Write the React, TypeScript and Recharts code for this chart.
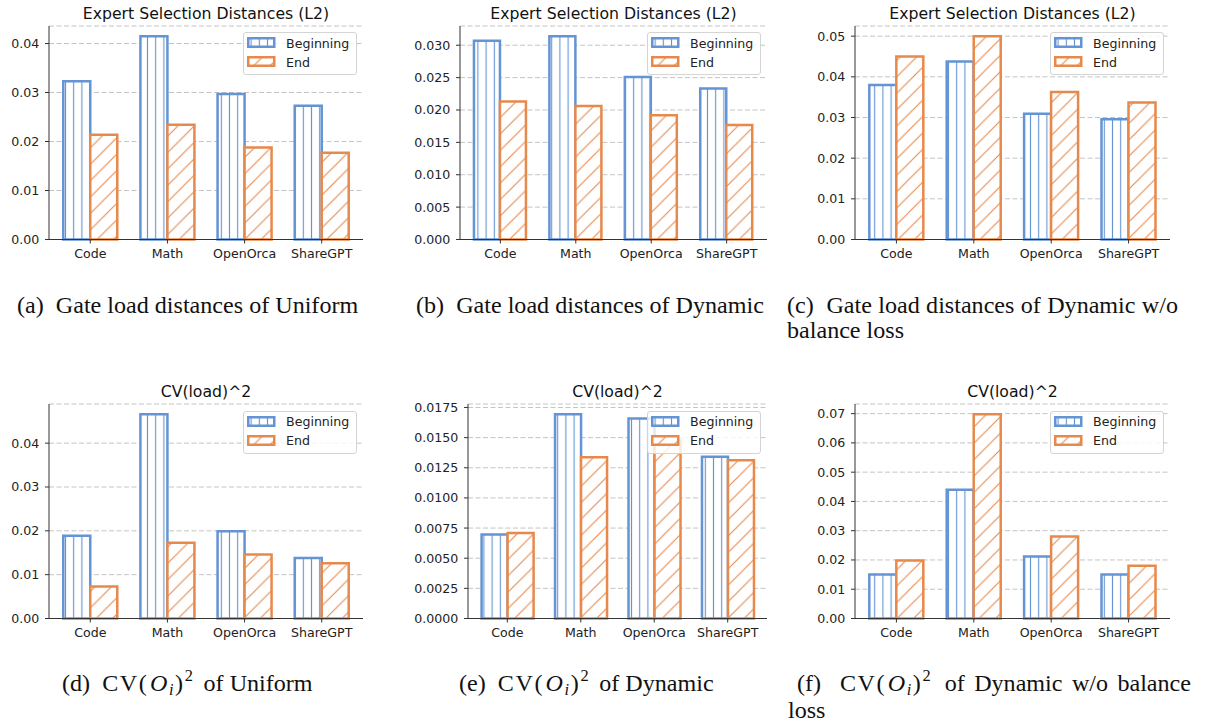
import React from "react";
import { BarChart, Bar, XAxis, YAxis, CartesianGrid, Legend } from "recharts";

const categories = ["Code", "Math", "OpenOrca", "ShareGPT"];

// (a) gate load distances, Uniform
const uniformDistBegin = [0.0323, 0.0415, 0.0297, 0.0273];
const uniformDistEnd = [0.0214, 0.0234, 0.0188, 0.0177];
// (b) gate load distances, Dynamic
const dynamicDistBegin = [0.0307, 0.0314, 0.0251, 0.0233];
const dynamicDistEnd = [0.0213, 0.0206, 0.0192, 0.0177];
// (c) gate load distances, Dynamic w/o balance loss
const noBalDistBegin = [0.038, 0.0438, 0.0309, 0.0296];
const noBalDistEnd = [0.045, 0.05, 0.0363, 0.0337];
// (d) CV^2, Uniform
const uniformCvBegin = [0.0189, 0.0466, 0.0199, 0.0138];
const uniformCvEnd = [0.0073, 0.0173, 0.0146, 0.0126];
// (e) CV^2, Dynamic
const dynamicCvBegin = [0.00696, 0.01694, 0.01658, 0.01342];
const dynamicCvEnd = [0.0071, 0.01337, 0.0148, 0.01312];
// (f) CV^2, Dynamic w/o balance loss
const noBalCvBegin = [0.015, 0.044, 0.0212, 0.015];
const noBalCvEnd = [0.0198, 0.0698, 0.028, 0.018];

const ticksA = [0, 0.01, 0.02, 0.03, 0.04];
const ticksB = [0, 0.005, 0.01, 0.015, 0.02, 0.025, 0.03];
const ticksC = [0, 0.01, 0.02, 0.03, 0.04, 0.05];
const ticksD = [0, 0.01, 0.02, 0.03, 0.04];
const ticksE = [0, 0.0025, 0.005, 0.0075, 0.01, 0.0125, 0.015, 0.0175];
const ticksF = [0, 0.01, 0.02, 0.03, 0.04, 0.05, 0.06, 0.07];

const distTitle = "Expert Selection Distances (L2)";
const cvTitle = "CV(load)^2";

const BLUE = "#6494d4";
const ORANGE = "#e8894c";
const AXIS = "#333";
const SANS = "'DejaVu Sans', sans-serif";
const SERIF = "'Liberation Serif', 'Times New Roman', serif";

type Panel = {
  title: string;
  begin: number[];
  end: number[];
  ticks: number[];
  decimals: number;
  L: number;
  R: number;
  T: number;
  B: number;
  yw: number;
};

const panels: Panel[] = [
  { title: distTitle, begin: uniformDistBegin, end: uniformDistEnd, ticks: ticksA, decimals: 2, L: 49, R: 363, T: 25.5, B: 239, yw: 45 },
  { title: distTitle, begin: dynamicDistBegin, end: dynamicDistEnd, ticks: ticksB, decimals: 3, L: 460, R: 767, T: 25.5, B: 239, yw: 60 },
  { title: distTitle, begin: noBalDistBegin, end: noBalDistEnd, ticks: ticksC, decimals: 2, L: 855, R: 1170, T: 25.5, B: 239, yw: 50 },
  { title: cvTitle, begin: uniformCvBegin, end: uniformCvEnd, ticks: ticksD, decimals: 2, L: 49, R: 363, T: 404, B: 618.5, yw: 45 },
  { title: cvTitle, begin: dynamicCvBegin, end: dynamicCvEnd, ticks: ticksE, decimals: 4, L: 468, R: 767, T: 404, B: 618.5, yw: 62 },
  { title: cvTitle, begin: noBalCvBegin, end: noBalCvEnd, ticks: ticksF, decimals: 2, L: 855, R: 1170, T: 404, B: 618.5, yw: 50 },
];

const legendItems = [
  { name: "Beginning", color: BLUE, fill: "url(#vhatch)" },
  { name: "End", color: ORANGE, fill: "url(#dhatch)" },
];

const LegendBox = () => (
  <div
    style={{
      width: 114,
      height: 43,
      boxSizing: "border-box",
      border: "1px solid #d4d4d4",
      borderRadius: 3,
      background: "rgba(255,255,255,0.8)",
      position: "relative",
      fontFamily: SANS,
      fontSize: 12.6,
      color: "#222",
    }}
  >
    {legendItems.map((it, i) => (
      <div
        key={it.name}
        style={{ position: "absolute", left: 3.5, top: 4.4 + i * 19, display: "flex", alignItems: "center", height: 11 }}
      >
        <svg width={28.5} height={11} style={{ display: "block" }}>
          <rect x={1.25} y={1.25} width={26} height={8.5} fill={it.fill} stroke={it.color} strokeWidth={2.5} />
        </svg>
        <span style={{ marginLeft: 10.5, lineHeight: "11px", position: "relative", top: 0.5 }}>{it.name}</span>
      </div>
    ))}
  </div>
);

const PanelChart = ({ p }: { p: Panel }) => {
  const data = categories.map((name, i) => ({ name, begin: p.begin[i], end: p.end[i] }));
  const top = Math.max(...p.begin, ...p.end) * 1.05;
  const W = p.R - p.L;
  const pad = (W * 0.035) / 4.07;
  const mt = 5;
  const width = p.yw + W + 10;
  const height = mt + (p.B - p.T) + 30;
  const inset = 6.5;
  return (
    <div style={{ position: "absolute", left: p.L - p.yw, top: p.T - mt, width, height }}>
      <svg width={width} height={30} style={{ position: "absolute", left: 0, top: -30 + mt, overflow: "visible" }}>
        <text x={p.yw + W / 2} y={30 - 7} textAnchor="middle" fontFamily={SANS} fontSize={15.7} fill="#111">
          {p.title}
        </text>
      </svg>
      <BarChart
        width={width}
        height={height}
        data={data}
        margin={{ top: mt, right: 10, bottom: 0, left: 0 }}
        barCategoryGap="15%"
        barGap={0}
      >
        <CartesianGrid vertical={false} stroke="#c4c4c4" strokeDasharray="5 2.5" />
        <XAxis
          dataKey="name"
          height={30}
          interval={0}
          padding={{ left: pad, right: pad }}
          tickSize={4}
          tickMargin={6}
          tickLine={{ stroke: AXIS }}
          axisLine={{ stroke: AXIS }}
          tick={{ fill: "#222", fontSize: 12.6, fontFamily: SANS }}
        />
        <XAxis
          xAxisId="top"
          orientation="top"
          dataKey="name"
          height={0}
          tick={false}
          tickLine={false}
          axisLine={{ stroke: AXIS }}
        />
        <YAxis
          type="number"
          domain={[0, top]}
          ticks={p.ticks}
          interval={0}
          width={p.yw}
          tickSize={4}
          tickMargin={5.7}
          tickFormatter={(v: number) => v.toFixed(p.decimals)}
          tickLine={{ stroke: AXIS }}
          axisLine={{ stroke: AXIS }}
          tick={{ fill: "#222", fontSize: 12.6, fontFamily: SANS }}
        />
        <YAxis
          yAxisId="right"
          orientation="right"
          type="number"
          domain={[0, top]}
          width={0}
          tick={false}
          tickLine={false}
          axisLine={{ stroke: AXIS }}
        />
        <Legend
          layout="vertical"
          align="center"
          verticalAlign="middle"
          content={() => <LegendBox />}
          wrapperStyle={{ top: mt + inset, left: p.yw + W - inset - 114, width: 114, height: 43 }}
        />
        <Bar dataKey="begin" name="Beginning" fill="url(#vhatch)" stroke={BLUE} strokeWidth={2.5} isAnimationActive={false} />
        <Bar dataKey="end" name="End" fill="url(#dhatch)" stroke={ORANGE} strokeWidth={2.5} isAnimationActive={false} />
      </BarChart>
    </div>
  );
};

// math part of the bottom captions: CV(O_i)^2
const CV = () => (
  <span style={{ letterSpacing: 1.6 }}>
    CV(<i style={{ marginLeft: 1.5 }}>O</i>
    <span style={{ fontSize: "0.68em", fontStyle: "italic", position: "relative", top: 4 }}>i</span>)
    <span style={{ fontSize: "0.68em", position: "relative", top: -10, marginRight: 3 }}>2</span>
  </span>
);

const capStyle: React.CSSProperties = {
  position: "absolute",
  fontFamily: SERIF,
  fontSize: 24.1,
  lineHeight: "25px",
  color: "#111",
  whiteSpace: "nowrap",
};

const justified: React.CSSProperties = {
  textAlign: "justify",
  textAlignLast: "justify",
  whiteSpace: "normal",
};

const App = () => (
  <div style={{ position: "absolute", left: 0, top: 0, width: 1207, height: 724, background: "#fff" }}>
    <svg width={0} height={0} style={{ position: "absolute" }}>
      <defs>
        <pattern id="vhatch" patternUnits="userSpaceOnUse" width={8.2} height={8.2}>
          <rect width={8.2} height={8.2} fill="#fff" />
          <line x1={4.1} y1={-1} x2={4.1} y2={9.2} stroke={BLUE} strokeWidth={1.1} />
        </pattern>
        <pattern id="dhatch" patternUnits="userSpaceOnUse" width={16.4} height={16.4}>
          <rect width={16.4} height={16.4} fill="#fff" />
          <path d="M0,16.4 L16.4,0 M-4,4 L4,-4 M12.4,20.4 L20.4,12.4" stroke={ORANGE} strokeWidth={1.1} />
        </pattern>
      </defs>
    </svg>
    {panels.map((p, i) => (
      <PanelChart key={i} p={p} />
    ))}

    <div style={{ ...capStyle, left: 17, top: 293.4 }}>(a)&nbsp; Gate load distances of Uniform</div>
    <div style={{ ...capStyle, left: 416, top: 293.4 }}>(b)&nbsp; Gate load distances of Dynamic</div>
    <div style={{ ...capStyle, left: 787, top: 293.4 }}>
      <div style={{ ...justified, width: 391 }}>(c)&nbsp; Gate load distances of Dynamic w/o</div>
      <div>balance loss</div>
    </div>

    <div style={{ ...capStyle, left: 62, top: 671.4 }}>
      (d)&nbsp; <CV /> of Uniform
    </div>
    <div style={{ ...capStyle, left: 459, top: 671.4 }}>
      (e)&nbsp; <CV /> of Dynamic
    </div>
    <div style={{ ...capStyle, left: 797, top: 671.4 }}>
      <div style={{ ...justified, width: 394 }}>
        (f)&nbsp; <CV /> of Dynamic w/o balance
      </div>
      <div style={{ marginLeft: -9 }}>loss</div>
    </div>
  </div>
);

export default App;
